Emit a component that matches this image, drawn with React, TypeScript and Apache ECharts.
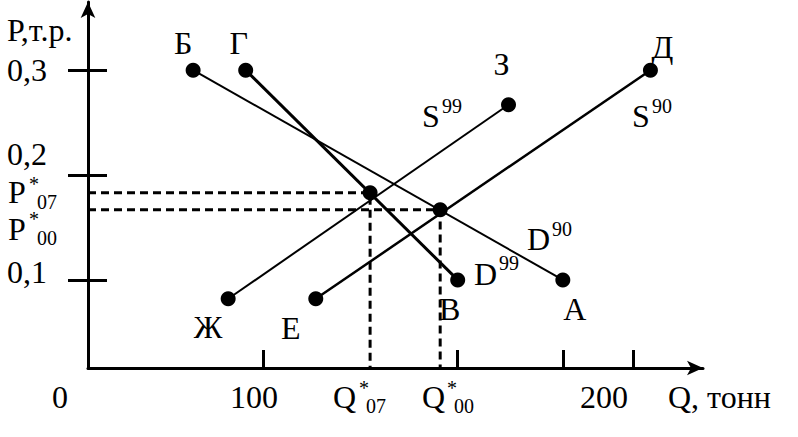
import React, { useEffect, useRef } from "react";
import * as echarts from "echarts";

// Points of the diagram (Q in tonnes, P in thousand roubles)
const pointNames = ["Б", "Г", "Д", "З", "Ж", "Е", "В", "А"];
const pointQ = [60, 90, 321, 240, 80, 130, 211, 271];
const pointP = [0.3, 0.3, 0.3, 0.267, 0.082, 0.082, 0.1, 0.1];

// Curves as [from, to] point names
const curveNames = ["D90", "D99", "S99", "S90"];
const curveEnds = [["Б", "А"], ["Г", "В"], ["Ж", "З"], ["Е", "Д"]];

// Equilibria (2007 and 2000)
const eqQ = [161, 201];
const eqP = [0.183, 0.167];

const yTicks = [0.1, 0.2, 0.3];
const xTicks = [100, 211, 271, 311];
const yTickLabels = ["0,1", "0,2", "0,3"];
const xTickLabels = ["0", "100", "200"];

const Y_MIN = 0.016;
const Y_MAX = 0.365;
const X_MAX = 351;

const FONT = "'Liberation Serif', 'Times New Roman', serif";
const BIG = 32;
const SMALL = 20;

const labelOffsets: Record<string, number[]> = {
  Б: [-10, -27],
  Г: [-7, -27],
  Д: [12, -23],
  З: [-7, -41],
  В: [-8, 29],
  А: [12, 29],
  Ж: [-20, 28],
  Е: [-25, 29],
};
const curveWidths = [2, 3, 2, 2.5];

function txt(text: string, x: number, y: number, size = BIG) {
  return {
    type: "text",
    x,
    y,
    silent: true,
    style: {
      text,
      fontSize: size,
      fontFamily: FONT,
      fill: "#000",
      align: "left",
      verticalAlign: "middle",
    },
  };
}

export default function App() {
  const ref = useRef<HTMLDivElement>(null);
  useEffect(() => {
    if (!ref.current) return;
    const chart = echarts.init(ref.current, undefined, { renderer: "svg" });
    const pt = (n: string) => {
      const i = pointNames.indexOf(n);
      return [pointQ[i], pointP[i]];
    };
    const axisLineStyle = { color: "#000", width: 3 };
    const series: any[] = [];
    curveNames.forEach((c, i) => {
      series.push({
        name: c,
        type: "line",
        data: [pt(curveEnds[i][0]), pt(curveEnds[i][1])],
        symbol: "none",
        lineStyle: { color: "#000", width: curveWidths[i] },
        silent: true,
      });
    });
    eqQ.forEach((q, i) => {
      series.push({
        type: "line",
        data: [
          [0, eqP[i]],
          [q, eqP[i]],
          [q, Y_MIN],
        ],
        symbol: "none",
        lineStyle: { color: "#000", width: 3, type: [8, 5] },
        silent: true,
      });
    });
    series.push({
      type: "scatter",
      symbolSize: 15,
      itemStyle: { color: "#000", opacity: 1 },
      data: pointNames.map((n, i) => ({
        name: n,
        value: [pointQ[i], pointP[i]],
        label: { offset: labelOffsets[n] },
      })),
      label: {
        show: true,
        position: "inside",
        formatter: (p: any) => p.name,
        fontSize: BIG,
        fontFamily: FONT,
        color: "#000",
        opacity: 1,
      },
      z: 5,
    });
    series.push({
      type: "scatter",
      symbolSize: 15,
      itemStyle: { color: "#000", opacity: 1 },
      data: eqQ.map((q, i) => [q, eqP[i]]),
      z: 5,
    });

    const graphic: any[] = [
      txt("Р,т.р.", 7, 30),
      txt(yTickLabels[2], 7, 70),
      txt(yTickLabels[1], 7, 154),
      txt("P", 8, 192),
      txt("*", 29, 184, SMALL),
      txt("07", 37, 202, SMALL),
      txt("P", 8, 229),
      txt("*", 29, 219, SMALL),
      txt("00", 37, 238, SMALL),
      txt(yTickLabels[0], 7, 272),
      txt(xTickLabels[0], 52, 397),
      txt(xTickLabels[1], 230, 397),
      txt("Q", 333, 397),
      txt("*", 359, 388, SMALL),
      txt("07", 366, 406, SMALL),
      txt("Q", 422, 397),
      txt("*", 447, 388, SMALL),
      txt("00", 454, 406, SMALL),
      txt(xTickLabels[2], 580, 397),
      txt("Q, тонн", 668, 397),
      txt("S", 422, 116),
      txt("99", 442, 106, SMALL),
      txt("S", 632, 116),
      txt("90", 652, 106, SMALL),
      txt("D", 527, 239),
      txt("90", 552, 229, SMALL),
      txt("D", 474, 274),
      txt("99", 499, 263, SMALL),
    ];

    chart.setOption({
      animation: false,
      backgroundColor: "#fff",
      grid: { left: 88, right: 95, top: 2, bottom: 69, containLabel: false },
      xAxis: {
        type: "value",
        min: 0,
        max: X_MAX,
        splitLine: { show: false },
        axisLabel: { show: false },
        axisLine: {
          onZero: false,
          lineStyle: axisLineStyle,
          symbol: ["none", "arrow"],
          symbolSize: [11, 16],
        },
        axisTick: {
          show: true,
          inside: true,
          length: 18,
          customValues: xTicks,
          lineStyle: { color: "#000", width: 3 },
        },
      },
      yAxis: [
        {
          type: "value",
          min: Y_MIN,
          max: Y_MAX,
          splitLine: { show: false },
          axisLabel: { show: false },
          axisLine: {
            show: true,
            onZero: false,
            lineStyle: axisLineStyle,
            symbol: ["none", "arrow"],
            symbolSize: [11, 16],
          },
          axisTick: {
            show: true,
            inside: false,
            length: 20,
            customValues: yTicks,
            lineStyle: { color: "#000", width: 3 },
          },
        },
        {
          type: "value",
          min: Y_MIN,
          max: Y_MAX,
          position: "left",
          splitLine: { show: false },
          axisLabel: { show: false },
          axisLine: { show: false, onZero: false },
          axisTick: {
            show: true,
            inside: true,
            length: 19,
            customValues: yTicks,
            lineStyle: { color: "#000", width: 3 },
          },
        },
      ],
      series,
      graphic,
    });
    return () => chart.dispose();
  }, []);
  return (
    <div
      ref={ref}
      style={{ position: "fixed", left: 0, top: 0, width: 798, height: 437 }}
    />
  );
}
